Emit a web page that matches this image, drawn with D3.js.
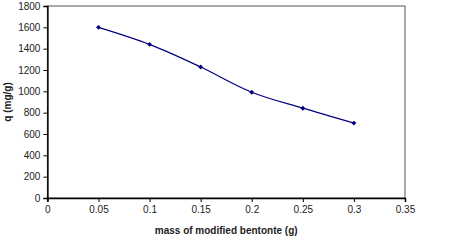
<!DOCTYPE html>
<html>
<head>
<meta charset="utf-8">
<script src="https://cdn.jsdelivr.net/npm/d3@7"></script>
<style>
body{margin:0;background:#fff}
svg{display:block}
text{font-family:"Liberation Sans",Arial,sans-serif}
</style>
</head>
<body>
<svg width="451" height="246"></svg>
<script>
// ===== DATA =====
const mass = [0.05, 0.1, 0.15, 0.2, 0.25, 0.3]
const qValues = [1600, 1440, 1228, 992, 842, 702]
const xTicks = [0, 0.05, 0.1, 0.15, 0.2, 0.25, 0.3, 0.35]
const yTicks = [0, 200, 400, 600, 800, 1000, 1200, 1400, 1600, 1800]

const svg = d3.select("svg")

const plotL = 47.4, plotR = 405, plotT = 6, plotB = 198

const x = d3.scaleLinear().domain([0,0.35]).range([plotL,plotR])
const y = d3.scaleLinear().domain([0,1800]).range([plotB,plotT])

// PLOT BORDER
svg.append("rect")
.attr("x",plotL).attr("y",plotT)
.attr("width",plotR-plotL).attr("height",plotB-plotT)
.attr("fill","none")
.attr("stroke","#555")
.attr("stroke-width",1)

// AXES
const xAxis = svg.append("g")
.attr("transform",`translate(0,${plotB})`)
.call(d3.axisBottom(x).tickValues(xTicks).tickSize(4).tickPadding(4).tickFormat(d=>d3.format("")(d)))

const yAxis = svg.append("g")
.attr("transform",`translate(${plotL},0)`)
.call(d3.axisLeft(y).tickValues(yTicks).tickSize(4).tickPadding(3).tickFormat(d=>d))

;[xAxis,yAxis].forEach(a=>{
  a.select(".domain").attr("stroke","#000").attr("stroke-width",1.5)
  a.selectAll(".tick line").attr("stroke","#000")
  a.selectAll(".tick text").attr("font-size","10px").attr("fill","#222")
})

// LINE
const line = d3.line()
.x((d,i)=>x(mass[i]))
.y(d=>y(d))
.curve(d3.curveCatmullRom.alpha(0.5))

svg.append("path")
.datum(qValues)
.attr("fill","none")
.attr("stroke","#000080")
.attr("stroke-width",1.2)
.attr("d",line)

// MARKERS
svg.selectAll(".pt")
.data(qValues)
.enter()
.append("path")
.attr("class","pt")
.attr("transform",(d,i)=>`translate(${x(mass[i])},${y(d)}) rotate(45)`)
.attr("d",d3.symbol().type(d3.symbolSquare).size(12))
.attr("fill","#000080")

// LABELS
svg.append("text")
.attr("x",(plotL+plotR)/2)
.attr("y",234)
.attr("text-anchor","middle")
.attr("font-size","10px")
.attr("font-weight","bold")
.attr("fill","#222")
.text("mass of modified bentonte (g)")

svg.append("text")
.attr("transform","rotate(-90)")
.attr("x",-102)
.attr("y",11)
.attr("text-anchor","middle")
.attr("font-size","10px")
.attr("font-weight","bold")
.attr("fill","#222")
.text("q (mg/g)")
</script>
</body>
</html>
